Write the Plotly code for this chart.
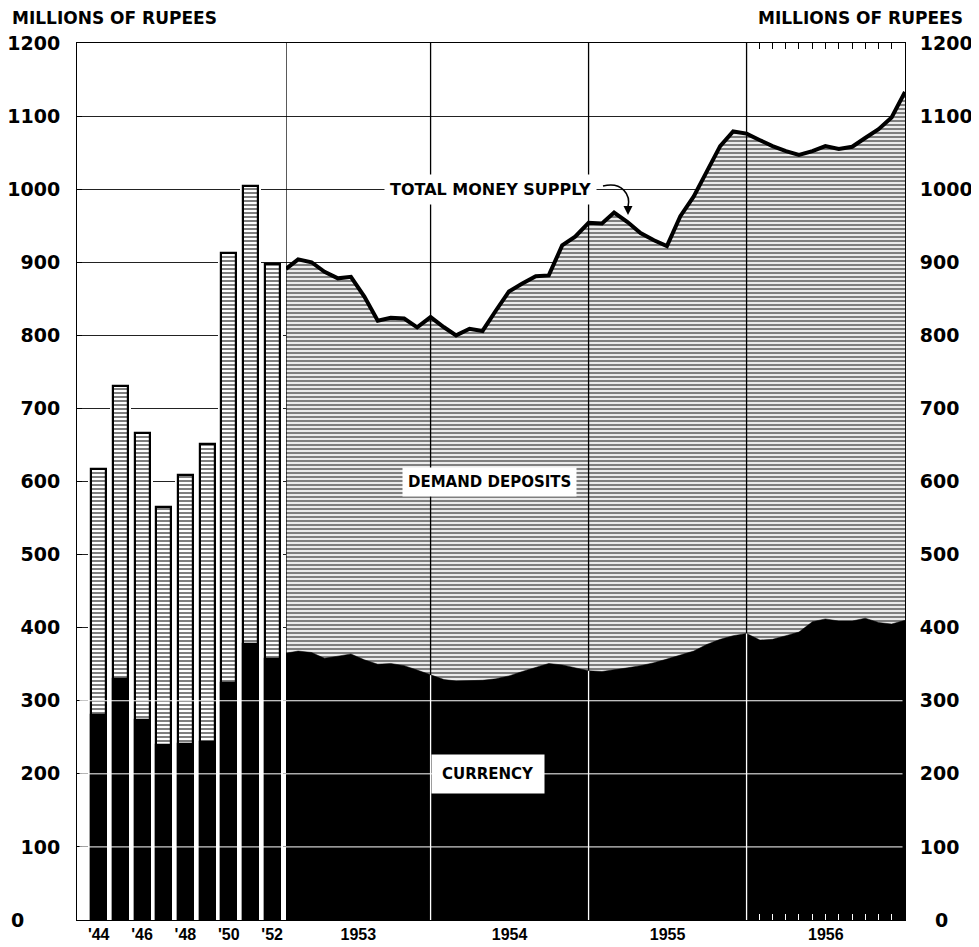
import plotly.graph_objects as go
import pandas as pd

# ---------------- data ----------------
bar_years = ["'44", "'45", "'46", "'47", "'48", "'49", "'50", "'51", "'52"]
bar_total = [617, 730, 667, 565, 609, 651, 913, 1005, 897]
bar_currency = [280, 330, 274, 239, 241, 244, 324, 377, 357]
bar_tick_labels = ["'44", "'46", "'48", "'50", "'52"]

months = [f"{y}-{m:02d}" for y in (1953, 1954, 1955, 1956) for m in range(1, 13)]
total_supply = [891, 904, 900, 887, 878, 880, 853, 820, 824, 823, 811, 825,
                811, 800, 809, 806, 834, 860, 871, 881, 882, 923, 935, 954,
                953, 968, 955, 940, 930, 922, 963, 990, 1024, 1059, 1079, 1076,
                1067, 1059, 1052, 1047, 1052, 1059, 1055, 1058, 1070, 1082, 1098, 1133]
currency = [365, 368, 366, 358, 361, 364, 356, 350, 351, 348, 342, 335,
            329, 327, 327, 328, 330, 334, 340, 346, 351, 349, 345, 341,
            340, 342, 345, 348, 352, 357, 362, 368, 377, 384, 389, 392,
            383, 384, 389, 394, 408, 412, 409, 409, 413, 407, 405, 410]
year_labels = ["1953", "1954", "1955", "1956"]
y_title = "MILLIONS OF RUPEES"

# ---------------- derived ----------------
dates = list(pd.to_datetime(months) + pd.offsets.MonthEnd(0))
bounds = [dates[0]] + [d for d in dates[:-1] if d.month == 12]
seg_ends = bounds[1:] + [dates[-1]]
year_mids = [s + (e - s) / 2 for s, e in zip(bounds, seg_ends)]
cur_at = dict(zip(dates, currency))
ticks_1956 = [d for d in dates if d.year == 1956][:-1]

# page body has an 8px default margin; lay out in page pixels
OFF = 8
W, H = 979 - OFF, 947 - OFF
PL, PR, PT, PB = 77, 905, 43, 920          # plot box in page pixels
L, T = PL - OFF, PT - OFF
R, B = W - (PR - OFF), H - (PB - OFF)
pw, ph = PR - PL, PB - PT
split = (286 - PL) / pw


def px(xp):
    return (xp - PL) / pw


def py(yp):
    return (PB - yp) / ph


hatch = dict(shape="-", fgcolor="black", bgcolor="white", size=4, solidity=0.58)

fig = go.Figure()

# bars (pre-1953)
xi = list(range(len(bar_years)))
fig.add_trace(go.Bar(x=xi, y=bar_total, width=1.0, marker=dict(color="white", line=dict(width=0)),
                     xaxis="x", yaxis="y", hoverinfo="skip"))
fig.add_trace(go.Bar(x=xi, y=bar_total, width=0.69,
                     marker=dict(color="white", pattern=dict(hatch, solidity=0.5),
                                 line=dict(color="black", width=2.2)),
                     xaxis="x", yaxis="y", name="Demand deposits"))
fig.add_trace(go.Bar(x=xi, y=bar_currency, width=0.69,
                     marker=dict(color="black", line=dict(color="black", width=2.2)),
                     xaxis="x", yaxis="y", name="Currency"))

# monthly areas
fig.add_trace(go.Scatter(x=dates, y=total_supply, mode="lines", fill="tozeroy",
                         fillpattern=hatch, fillcolor="white",
                         line=dict(color="black", width=4), xaxis="x2", yaxis="y",
                         name="Total money supply"))
bx, by = [], []
for d in bounds:
    bx += [d, d, None]
    by += [0, 1200, None]
fig.add_trace(go.Scatter(x=bx, y=by, mode="lines", line=dict(color="black", width=1.3),
                         xaxis="x2", yaxis="y", hoverinfo="skip"))
fig.add_trace(go.Scatter(x=dates, y=currency, mode="lines", fill="tozeroy",
                         fillcolor="black", line=dict(color="black", width=0.5),
                         xaxis="x2", yaxis="y", name="Currency"))
wx, wy = [], []
for d in bounds[1:]:
    wx += [d, d, None]
    wy += [0, cur_at[d], None]
fig.add_trace(go.Scatter(x=wx, y=wy, mode="lines", line=dict(color="white", width=1.3),
                         xaxis="x2", yaxis="y", hoverinfo="skip"))
# carriers for the extra axes
for ax in ("x3", "x4"):
    fig.add_trace(go.Scatter(x=[dates[0]], y=[None], mode="lines", xaxis=ax, yaxis="y",
                             hoverinfo="skip"))
fig.add_trace(go.Scatter(x=[dates[0]], y=[None], mode="lines", xaxis="x2", yaxis="y2",
                         hoverinfo="skip"))

num_font = dict(family="DejaVu Sans", size=19, color="black", weight="bold")
lab_font = dict(family="Liberation Sans", size=16, color="black", weight="bold")

fig.update_layout(
    width=W, height=H, margin=dict(l=L, r=R, t=T, b=B, autoexpand=False),
    paper_bgcolor="white", plot_bgcolor="white", showlegend=False,
    barmode="overlay", bargap=0,
    xaxis=dict(domain=[0, split], range=[-1.0, 8.64], tickmode="array",
               tickvals=[0, 2, 4, 6, 8], ticktext=bar_tick_labels, ticks="",
               showgrid=False, zeroline=False, showline=True, linecolor="black",
               linewidth=1, mirror=True, tickfont=lab_font, anchor="y",
               ticklabelstandoff=0, automargin=False),
    xaxis2=dict(domain=[split, 1], type="date", range=[dates[0], dates[-1]], tickmode="array",
                tickvals=year_mids, ticktext=year_labels, ticks="", showgrid=False,
                zeroline=False, showline=True, linecolor="black", linewidth=1, mirror=True,
                tickfont=lab_font, anchor="y", ticklabelstandoff=0, automargin=False),
    xaxis3=dict(overlaying="x2", side="top", anchor="y", type="date",
                range=[dates[0], dates[-1]], tickmode="array", tickvals=ticks_1956,
                ticks="inside", ticklen=6, tickcolor="black", tickwidth=1,
                showticklabels=False, showgrid=False, zeroline=False, showline=False,
                automargin=False),
    xaxis4=dict(overlaying="x2", side="bottom", anchor="y", type="date",
                range=[dates[0], dates[-1]], tickmode="array", tickvals=ticks_1956,
                ticks="inside", ticklen=6, tickcolor="white", tickwidth=1,
                showticklabels=False, showgrid=False, zeroline=False, showline=False,
                automargin=False),
    yaxis=dict(range=[0, 1200], dtick=100, tick0=0, labelalias={"0": " "}, showgrid=True,
               gridcolor="#222", gridwidth=1, zeroline=False, ticks="inside", ticklen=5,
               tickcolor="black", showline=True, linecolor="black", linewidth=1,
               tickfont=num_font, anchor="x", ticklabelstandoff=12, automargin=False),
    yaxis2=dict(range=[0, 1200], dtick=100, tick0=0, labelalias={"0": " "}, overlaying="y",
                side="right", anchor="x2", showgrid=False, zeroline=False, ticks="",
                showline=True, linecolor="black", linewidth=1, tickfont=num_font,
                ticklabelstandoff=10, automargin=False),
)

# the hand-placed zero labels
fig.add_annotation(xref="paper", yref="y", x=px(17), y=0, text="0", showarrow=False,
                   font=num_font, xanchor="center", yanchor="middle")
fig.add_annotation(xref="paper", yref="y", x=px(941), y=0, text="0", showarrow=False,
                   font=num_font, xanchor="center", yanchor="middle")

# white grid lines inside the black currency
for v in (100, 200, 300):
    fig.add_shape(type="line", xref="paper", yref="y", x0=0.003, x1=0.997, y0=v, y1=v,
                  line=dict(color="white", width=1), layer="above")

# curved arrow for the total label
fig.add_shape(type="path", xref="paper", yref="paper",
              path=f"M {px(603)},{py(186)} C {px(622)},{py(181)} {px(631)},{py(195)} {px(628)},{py(207)}",
              line=dict(color="black", width=1.5), layer="above")
fig.add_annotation(xref="paper", yref="paper", x=px(628), y=py(215), ax=0, ay=-9,
                   text="", showarrow=True, arrowhead=2, arrowsize=1.2, arrowwidth=1.5,
                   arrowcolor="black")

ann_font = dict(family="DejaVu Sans", size=16, color="black", weight="bold")
fig.add_annotation(xref="paper", yref="y", x=px(490), y=1000, text="TOTAL MONEY SUPPLY",
                   showarrow=False, font=ann_font, bgcolor="white", borderpad=5)
fig.add_annotation(xref="paper", yref="y", x=px(489), y=600, text="DEMAND DEPOSITS",
                   showarrow=False, font=dict(family="DejaVu Sans", size=15, color="black", weight="bold"),
                   bgcolor="white", borderpad=5)
fig.add_annotation(xref="paper", yref="y", x=px(488), y=200, text="CURRENCY",
                   showarrow=False, font=dict(family="DejaVu Sans", size=15, color="black", weight="bold"),
                   bgcolor="white", borderpad=10)

# axis titles
title_font = dict(family="DejaVu Sans", size=17, color="black", weight="bold")
fig.add_annotation(xref="paper", yref="paper", x=px(10), y=py(18), xanchor="left",
                   yanchor="middle", text=y_title, showarrow=False, font=title_font)
fig.add_annotation(xref="paper", yref="paper", x=px(756), y=py(18), xanchor="left",
                   yanchor="middle", text=y_title, showarrow=False, font=title_font)

fig.write_html("out.html")
